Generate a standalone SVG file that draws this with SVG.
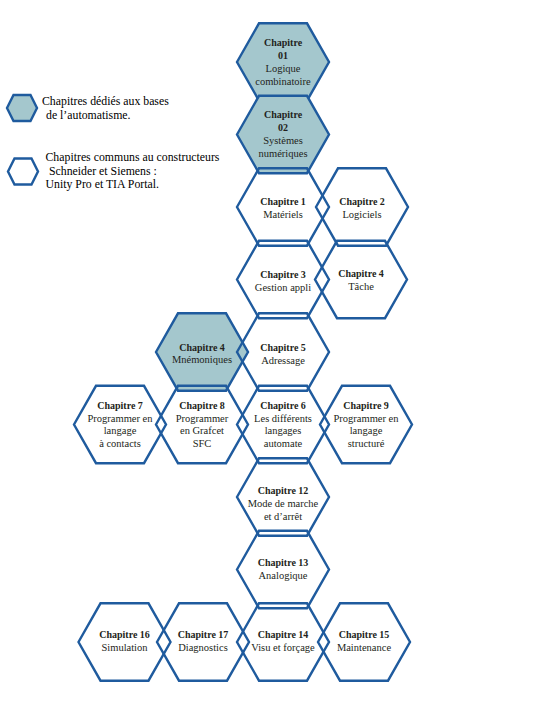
<svg xmlns="http://www.w3.org/2000/svg" xmlns:xlink="http://www.w3.org/1999/xlink" width="539" height="716" viewBox="0 0 539 716">
<style>
.hx{fill:none;stroke:#1f5b9e;stroke-width:2.4;stroke-linejoin:miter}
.base{fill:#a4c7cd}
text{font-family:"Liberation Serif","Times New Roman",serif;fill:#231f20;text-anchor:middle}
.t{font-size:10px;font-weight:bold}
.d{font-size:10.5px}
.lg{font-size:11.8px;text-anchor:start;fill:#000}
</style>
<defs>
<polygon id="hex" points="-46,0 -24,-38.7 24,-38.7 46,0 24,38.7 -24,38.7"/>
<polygon id="hexs" points="-15,0 -8.5,-13 8.5,-13 15,0 8.5,13 -8.5,13"/>
</defs>
<rect width="539" height="716" fill="#fff"/>
<g id="legend">
<use href="#hexs" class="hx base" transform="translate(22,108)"/>
<text class="lg" x="42" y="105">Chapitres dédiés aux bases</text>
<text class="lg" x="46" y="119">de l’automatisme.</text>
<use href="#hexs" class="hx" transform="translate(23,171.5)"/>
<text class="lg" x="45.5" y="161">Chapitres communs au constructeurs</text>
<text class="lg" x="49" y="174.5">Schneider et Siemens :</text>
<text class="lg" x="45.5" y="188">Unity Pro et TIA Portal.</text>
</g>
<g id="ch01">
<use href="#hex" class="hx base" transform="translate(283,62)"/>
<text class="t" x="283" y="45.5">Chapitre</text>
<text class="t" x="283" y="58.5">01</text>
<text class="d" x="283" y="71.5">Logique</text>
<text class="d" x="283" y="84.5">combinatoire</text>
</g>
<g id="ch02">
<use href="#hex" class="hx base" transform="translate(283,134.5)"/>
<text class="t" x="283" y="118">Chapitre</text>
<text class="t" x="283" y="131">02</text>
<text class="d" x="283" y="144">Systèmes</text>
<text class="d" x="283" y="157">numériques</text>
</g>
<g id="ch4m">
<use href="#hex" class="hx base" transform="translate(202,352)"/>
<text class="t" x="202" y="350.5">Chapitre 4</text>
<text class="d" x="202" y="363">Mnémoniques</text>
</g>
<g id="ch1">
<use href="#hex" class="hx" transform="translate(283,207)"/>
<text class="t" x="283" y="204.5">Chapitre 1</text>
<text class="d" x="283" y="217.5">Matériels</text>
</g>
<g id="ch2">
<use href="#hex" class="hx" transform="translate(362,207)"/>
<text class="t" x="362" y="204.5">Chapitre 2</text>
<text class="d" x="362" y="217.5">Logiciels</text>
</g>
<g id="ch3">
<use href="#hex" class="hx" transform="translate(283,279.5)"/>
<text class="t" x="283" y="277.5">Chapitre 3</text>
<text class="d" x="283" y="290.5">Gestion appli</text>
</g>
<g id="ch4t">
<use href="#hex" class="hx" transform="translate(361,279.5)"/>
<text class="t" x="361" y="277">Chapitre 4</text>
<text class="d" x="361" y="290">Tâche</text>
</g>
<g id="ch5">
<use href="#hex" class="hx" transform="translate(283,352)"/>
<text class="t" x="283" y="350.5">Chapitre 5</text>
<text class="d" x="283" y="363.5">Adressage</text>
</g>
<g id="ch7">
<use href="#hex" class="hx" transform="translate(120,424.5)"/>
<text class="t" x="120" y="408.5">Chapitre 7</text>
<text class="d" x="120" y="421.5">Programmer en</text>
<text class="d" x="120" y="434">langage</text>
<text class="d" x="120" y="446.5">à contacts</text>
</g>
<g id="ch8">
<use href="#hex" class="hx" transform="translate(202,424.5)"/>
<text class="t" x="202" y="408.5">Chapitre 8</text>
<text class="d" x="202" y="421.5">Programmer</text>
<text class="d" x="202" y="434">en Grafcet</text>
<text class="d" x="202" y="446.5">SFC</text>
</g>
<g id="ch6">
<use href="#hex" class="hx" transform="translate(283,424.5)"/>
<text class="t" x="283" y="408.5">Chapitre 6</text>
<text class="d" x="283" y="421.5">Les différents</text>
<text class="d" x="283" y="434">langages</text>
<text class="d" x="283" y="446.5">automate</text>
</g>
<g id="ch9">
<use href="#hex" class="hx" transform="translate(366,424.5)"/>
<text class="t" x="366" y="408.5">Chapitre 9</text>
<text class="d" x="366" y="421.5">Programmer en</text>
<text class="d" x="366" y="434">langage</text>
<text class="d" x="366" y="446.5">structuré</text>
</g>
<g id="ch12">
<use href="#hex" class="hx" transform="translate(283,497)"/>
<text class="t" x="283" y="493.5">Chapitre 12</text>
<text class="d" x="283" y="506.5">Mode de marche</text>
<text class="d" x="283" y="519.5">et d’arrêt</text>
</g>
<g id="ch13">
<use href="#hex" class="hx" transform="translate(283,569.5)"/>
<text class="t" x="283" y="565.5">Chapitre 13</text>
<text class="d" x="283" y="578.5">Analogique</text>
</g>
<g id="ch16">
<use href="#hex" class="hx" transform="translate(124.5,642)"/>
<text class="t" x="124.5" y="637.5">Chapitre 16</text>
<text class="d" x="124.5" y="650.5">Simulation</text>
</g>
<g id="ch17">
<use href="#hex" class="hx" transform="translate(203,642)"/>
<text class="t" x="203" y="637.5">Chapitre 17</text>
<text class="d" x="203" y="650.5">Diagnostics</text>
</g>
<g id="ch14">
<use href="#hex" class="hx" transform="translate(283,642)"/>
<text class="t" x="283" y="637.5">Chapitre 14</text>
<text class="d" x="283" y="650.5">Visu et forçage</text>
</g>
<g id="ch15">
<use href="#hex" class="hx" transform="translate(364,642)"/>
<text class="t" x="364" y="637.5">Chapitre 15</text>
<text class="d" x="364" y="650.5">Maintenance</text>
</g>
</svg>
